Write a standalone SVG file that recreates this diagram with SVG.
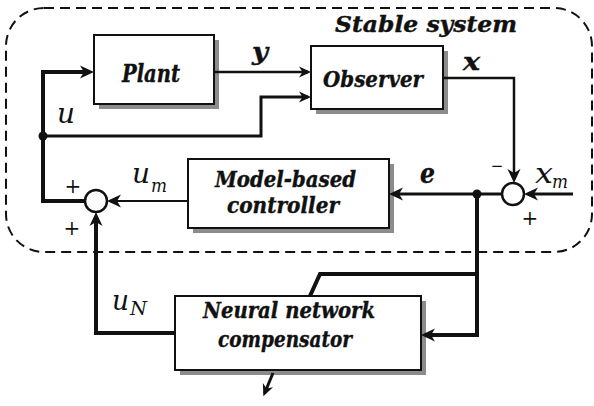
<svg xmlns="http://www.w3.org/2000/svg" width="594" height="406" viewBox="0 0 594 406">
<style>
.box{fill:#fff;stroke:#111;stroke-width:2}
.shd{fill:#8c8c8c}
.ln{fill:none;stroke:#111;stroke-linejoin:miter}
.sum{fill:#fff;stroke:#111;stroke-width:2.5}
.lbl{font-family:"DejaVu Serif","Liberation Serif",serif;font-weight:bold;font-style:italic;fill:#111;stroke:#111;stroke-width:0.4}
.var{font-family:"DejaVu Serif","Liberation Serif",serif;font-style:italic;fill:#111}
.sgn{font-family:"DejaVu Serif","Liberation Serif",serif;fill:#111;text-anchor:middle}
</style>
<defs>
<marker id="ah" viewBox="-16 -8 18 16" markerWidth="18" markerHeight="16" refX="-4" refY="0" orient="auto" markerUnits="userSpaceOnUse">
<path d="M0,0 L-14,-6.5 L-10,0 L-14,6.5 Z" fill="#111"/>
</marker>
<marker id="ahs" viewBox="-16 -8 18 16" markerWidth="18" markerHeight="16" refX="-3" refY="0" orient="auto" markerUnits="userSpaceOnUse">
<path d="M0,0 L-12,-5.5 L-8.5,0 L-12,5.5 Z" fill="#111"/>
</marker>
</defs>

<rect x="6" y="8" width="586" height="244" rx="38" ry="38" fill="none" stroke="#111" stroke-width="2" stroke-dasharray="10 6"/>
<text class="lbl" x="335" y="32" font-size="23" textLength="182" lengthAdjust="spacingAndGlyphs">Stable system</text>

<g id="plant">
<rect class="shd" x="99" y="40" width="120" height="69"/>
<rect class="box" x="94" y="35" width="120" height="69"/>
<text class="lbl" x="122" y="82" font-size="24" textLength="58" lengthAdjust="spacingAndGlyphs">Plant</text>
</g>

<g id="observer">
<rect class="shd" x="316" y="51" width="132" height="63"/>
<rect class="box" x="311" y="46" width="132" height="63"/>
<text class="lbl" x="323" y="87" font-size="23" textLength="100" lengthAdjust="spacingAndGlyphs">Observer</text>
</g>

<g id="controller">
<rect class="shd" x="193" y="164" width="201" height="69"/>
<rect class="box" x="188" y="159" width="201" height="69"/>
<text class="lbl" x="215" y="187" font-size="22" textLength="141" lengthAdjust="spacingAndGlyphs">Model-based</text>
<text class="lbl" x="227" y="213" font-size="22" textLength="112" lengthAdjust="spacingAndGlyphs">controller</text>
</g>

<g id="compensator">
<rect class="shd" x="180" y="301" width="246" height="74"/>
<rect class="box" x="175" y="296" width="246" height="74"/>
<text class="lbl" x="203" y="318" font-size="23" textLength="172" lengthAdjust="spacingAndGlyphs">Neural network</text>
<text class="lbl" x="218" y="347" font-size="23" textLength="134" lengthAdjust="spacingAndGlyphs">compensator</text>
</g>

<g id="sum1">
<circle class="sum" cx="96" cy="201" r="11"/>
</g>
<g id="sum2">
<circle class="sum" cx="513" cy="194" r="11"/>
</g>

<g id="connectors">
<path class="ln" stroke-width="4" d="M43,201 L43,72 L90,72" marker-end="url(#ah)"/>
<path class="ln" stroke-width="4" d="M41,201 L85,201"/>
<path class="ln" stroke-width="3" d="M43,136 L261,136 L261,97 L308,97" marker-end="url(#ahs)"/>
<path class="ln" stroke-width="2.5" d="M214,72 L308,72" marker-end="url(#ahs)"/>
<path class="ln" stroke-width="2.5" d="M443,78 L514,78 L514,179" marker-end="url(#ah)"/>
<path class="ln" stroke-width="3" d="M573,194 L528,194" marker-end="url(#ah)"/>
<path class="ln" stroke-width="3" d="M502,194 L393,194" marker-end="url(#ah)"/>
<path class="ln" stroke-width="4" d="M477,194 L477,335 L425,335" marker-end="url(#ah)"/>
<path class="ln" stroke-width="4" d="M477,274 L320,274 L310,296"/>
<path class="ln" stroke-width="2" d="M188,201 L111,201" marker-end="url(#ah)"/>
<path class="ln" stroke-width="4" d="M175,333 L96,333 L96,216" marker-end="url(#ah)"/>
<path class="ln" stroke-width="3" d="M273,373 L264.5,393.5" marker-end="url(#ahs)"/>
<circle cx="43" cy="136" r="4.5" fill="#111"/>
<circle cx="477" cy="194" r="4.5" fill="#111"/>
</g>

<text class="lbl" x="252" y="60" font-size="25" textLength="16" lengthAdjust="spacingAndGlyphs">y</text>
<text class="lbl" x="463" y="70" font-size="25" textLength="17" lengthAdjust="spacingAndGlyphs">x</text>
<text class="lbl" x="420" y="183" font-size="27" textLength="15" lengthAdjust="spacingAndGlyphs">e</text>
<text class="var" x="57" y="123" font-size="27" textLength="18" lengthAdjust="spacingAndGlyphs">u</text>
<text class="var" x="132" y="183" font-size="27" textLength="18" lengthAdjust="spacingAndGlyphs">u</text>
<text class="var" x="151" y="192" font-size="19" textLength="16" lengthAdjust="spacingAndGlyphs">m</text>
<text class="var" x="535" y="183" font-size="27" textLength="18" lengthAdjust="spacingAndGlyphs">x</text>
<text class="var" x="552" y="188" font-size="19" textLength="16" lengthAdjust="spacingAndGlyphs">m</text>
<text class="var" x="112" y="310" font-size="27" textLength="17" lengthAdjust="spacingAndGlyphs">u</text>
<text class="var" x="130" y="315" font-size="18" textLength="17" lengthAdjust="spacingAndGlyphs">N</text>
<text class="sgn" x="73" y="193" font-size="20">+</text>
<text class="sgn" x="72" y="235" font-size="20">+</text>
<text class="sgn" x="530" y="225" font-size="20">+</text>
<text class="sgn" x="497" y="171" font-size="15">−</text>
</svg>
